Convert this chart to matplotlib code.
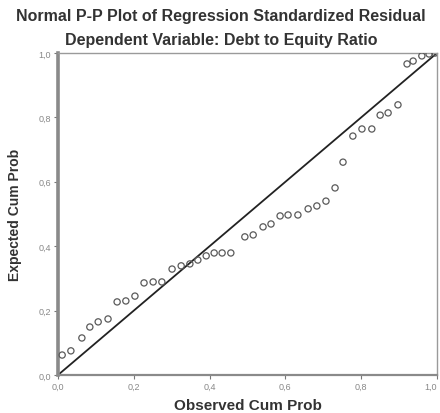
"""Normal P-P plot of regression standardized residual (SPSS style)."""

import numpy as np
import matplotlib
matplotlib.use("Agg")
import matplotlib.pyplot as plt

# observed vs expected cumulative probabilities
observed = [0.011, 0.034, 0.063, 0.084, 0.106, 0.132, 0.156, 0.179, 0.203, 0.227,
            0.251, 0.274, 0.301, 0.325, 0.348, 0.369, 0.391, 0.412, 0.433, 0.456,
            0.493, 0.515, 0.541, 0.562, 0.586, 0.607, 0.633, 0.660, 0.683, 0.707,
            0.731, 0.752, 0.778, 0.802, 0.828, 0.850, 0.871, 0.897, 0.921, 0.937,
            0.960, 0.979, 0.995]
expected = [0.062, 0.075, 0.115, 0.149, 0.165, 0.174, 0.227, 0.230, 0.245, 0.286,
            0.289, 0.289, 0.329, 0.339, 0.345, 0.357, 0.370, 0.379, 0.379, 0.379,
            0.429, 0.435, 0.460, 0.469, 0.494, 0.497, 0.497, 0.516, 0.525, 0.540,
            0.581, 0.661, 0.742, 0.764, 0.764, 0.807, 0.814, 0.839, 0.966, 0.975,
            0.991, 0.997, 1.000]
ticks = [0.0, 0.2, 0.4, 0.6, 0.8, 1.0]
tick_labels = ["0,0", "0,2", "0,4", "0,6", "0,8", "1,0"]

plt.rcParams["font.family"] = ["Liberation Sans", "DejaVu Sans"]

fig = plt.figure(figsize=(4.4, 4.14), dpi=100)
ax = fig.add_axes([58 / 440, 38 / 414, 379 / 440, 322 / 414])

ax.plot([0, 1], [0, 1], color="#222222", linewidth=1.3, zorder=2)
ax.scatter(observed, expected, s=20, facecolors="none", edgecolors="#5a5a5a",
           linewidths=0.9, zorder=3)

ax.set_xlim(0, 1)
ax.set_ylim(0, 1)
ax.set_xticks(ticks)
ax.set_yticks(ticks)
ax.set_xticklabels(tick_labels)
ax.set_yticklabels(tick_labels)
ax.tick_params(length=3, width=0.8, color="#777777", labelsize=6.5,
               labelcolor="#888888", pad=2)
# last x label sits on the figure edge, keep it inside
ax.get_xticklabels()[-1].set_ha("right")

ax.spines["left"].set_linewidth(2.6)
ax.spines["left"].set_color("#8a8a8a")
ax.spines["bottom"].set_linewidth(1.6)
ax.spines["bottom"].set_color("#8a8a8a")
for side in ["top", "right"]:
    ax.spines[side].set_linewidth(1.0)
    ax.spines[side].set_color("#9a9a9a")

ax.set_xlabel("Observed Cum Prob", fontsize=11, fontweight="bold",
              color="#333333", labelpad=5)
ax.set_ylabel("Expected Cum Prob", fontsize=10, fontweight="bold",
              color="#333333", labelpad=12)

fig.text(0.502, 1 - 17 / 414, "Normal P-P Plot of Regression Standardized Residual",
         ha="center", va="center", fontsize=11.5, fontweight="bold", color="#333333")
fig.text(0.502, 1 - 40 / 414, "Dependent Variable: Debt to Equity Ratio",
         ha="center", va="center", fontsize=11.5, fontweight="bold", color="#333333")

fig.savefig("out.png", dpi=100)
